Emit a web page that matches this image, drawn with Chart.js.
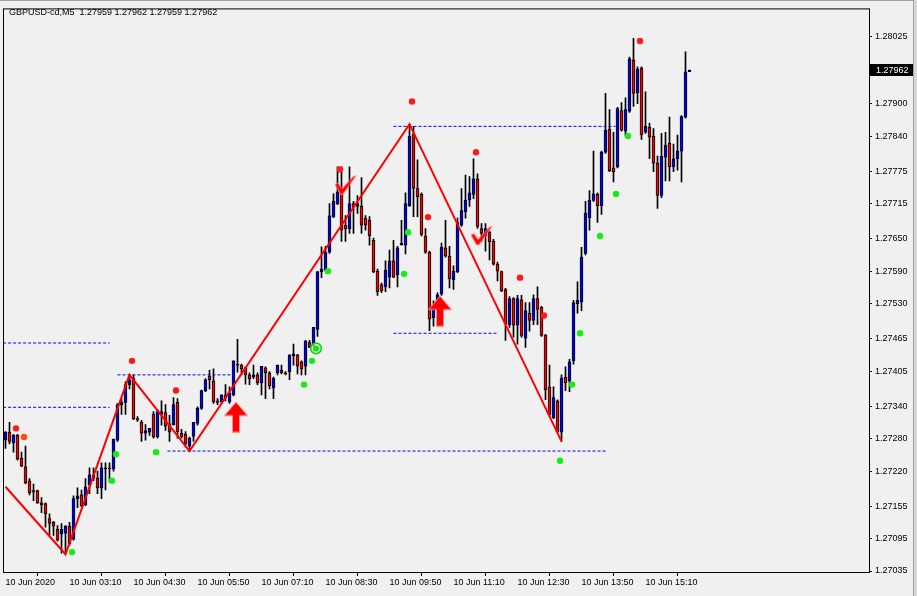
<!DOCTYPE html>
<html><head><meta charset="utf-8">
<script src="https://cdn.jsdelivr.net/npm/chart.js@4.4.1/dist/chart.umd.min.js"></script>
<style>html,body{margin:0;padding:0;background:#f0f0f0;overflow:hidden}canvas{display:block}</style>
</head><body>
<canvas id="c" width="917" height="596"></canvas>
<script>
// ---------- DATA ----------
const symbolTitle = "GBPUSD-cd,M5  1.27959 1.27962 1.27959 1.27962";
const bidPrice = 1.27962;
const xTickBars = [0,16,32,48,64,80,96,112,128,144,160];
const xTickLabels = ["10 Jun 2020","10 Jun 03:10","10 Jun 04:30","10 Jun 05:50","10 Jun 07:10","10 Jun 08:30","10 Jun 09:50","10 Jun 11:10","10 Jun 12:30","10 Jun 13:50","10 Jun 15:10"];
const yTickValues = [1.27035,1.27095,1.27155,1.27220,1.27280,1.27340,1.27405,1.27465,1.27530,1.27590,1.27650,1.27715,1.27775,1.27840,1.27900,1.28025];
const yMin = 1.270313, yMax = 1.280763;

const open = [1.27277,1.27292,1.27272,1.27286,1.27244,1.27228,1.27202,1.27184,1.27184,1.27161,1.27160,1.27132,1.27125,1.27112,1.27103,1.27105,1.27118,1.27094,1.27169,1.27176,1.27158,1.27194,1.27213,1.27207,1.27189,1.27224,1.27226,1.27224,1.27277,1.27343,1.27347,1.27380,1.27392,1.27317,1.27310,1.27290,1.27292,1.27325,1.27283,1.27325,1.27328,1.27308,1.27306,1.27347,1.27290,1.27288,1.27266,1.27284,1.27308,1.27336,1.27369,1.27396,1.27387,1.27350,1.27348,1.27361,1.27348,1.27361,1.27416,1.27416,1.27411,1.27398,1.27394,1.27398,1.27383,1.27411,1.27402,1.27374,1.27402,1.27407,1.27402,1.27404,1.27433,1.27435,1.27422,1.27414,1.27458,1.27455,1.27482,1.27589,1.27592,1.27625,1.27691,1.27715,1.27739,1.27675,1.27668,1.27715,1.27710,1.27710,1.27688,1.27684,1.27647,1.27590,1.27565,1.27561,1.27579,1.27609,1.27583,1.27639,1.27638,1.27711,1.27843,1.27743,1.27732,1.27655,1.27625,1.27504,1.27519,1.27548,1.27633,1.27618,1.27574,1.27589,1.27675,1.27700,1.27722,1.27732,1.27761,1.27669,1.27655,1.27662,1.27645,1.27603,1.27589,1.27556,1.27491,1.27539,1.27490,1.27537,1.27466,1.27512,1.27499,1.27539,1.27523,1.27471,1.27376,1.27319,1.27350,1.27292,1.27394,1.27387,1.27424,1.27530,1.27533,1.27623,1.27689,1.27721,1.27732,1.27711,1.27810,1.27853,1.27781,1.27783,1.27887,1.27849,1.27886,1.27981,1.27920,1.27966,1.27847,1.27856,1.27840,1.27790,1.27730,1.27801,1.27827,1.27783,1.27798,1.27812,1.27875,1.27959];
const high = [1.27293,1.27310,1.27288,1.27288,1.27255,1.27266,1.27206,1.27196,1.27185,1.27171,1.27161,1.27141,1.27127,1.27119,1.27123,1.27119,1.27125,1.27174,1.27189,1.27185,1.27206,1.27226,1.27226,1.27220,1.27235,1.27235,1.27235,1.27279,1.27345,1.27354,1.27385,1.27398,1.27398,1.27321,1.27314,1.27306,1.27299,1.27330,1.27334,1.27350,1.27343,1.27323,1.27356,1.27354,1.27297,1.27293,1.27283,1.27310,1.27339,1.27370,1.27391,1.27407,1.27409,1.27354,1.27361,1.27380,1.27376,1.27424,1.27464,1.27418,1.27413,1.27402,1.27416,1.27402,1.27414,1.27413,1.27404,1.27394,1.27416,1.27416,1.27404,1.27435,1.27455,1.27436,1.27424,1.27462,1.27462,1.27486,1.27589,1.27635,1.27636,1.27715,1.27733,1.27783,1.27783,1.27693,1.27783,1.27719,1.27730,1.27763,1.27693,1.27691,1.27651,1.27594,1.27568,1.27609,1.27629,1.27647,1.27636,1.27684,1.27735,1.27862,1.27858,1.27796,1.27735,1.27669,1.27627,1.27535,1.27550,1.27642,1.27684,1.27636,1.27600,1.27688,1.27743,1.27768,1.27765,1.27798,1.27770,1.27678,1.27678,1.27664,1.27649,1.27607,1.27590,1.27558,1.27543,1.27541,1.27545,1.27545,1.27532,1.27532,1.27546,1.27561,1.27525,1.27473,1.27416,1.27376,1.27352,1.27398,1.27413,1.27427,1.27536,1.27570,1.27634,1.27719,1.27739,1.27812,1.27735,1.27812,1.27919,1.27889,1.27847,1.27893,1.27902,1.27911,1.27986,1.28021,1.27968,1.27968,1.27922,1.27864,1.27854,1.27803,1.27845,1.27847,1.27875,1.27825,1.27842,1.27878,1.27996,1.27962];
const low = [1.27262,1.27270,1.27255,1.27240,1.27228,1.27196,1.27176,1.27165,1.27160,1.27143,1.27116,1.27101,1.27101,1.27090,1.27068,1.27066,1.27083,1.27092,1.27152,1.27154,1.27156,1.27178,1.27202,1.27178,1.27169,1.27185,1.27200,1.27220,1.27275,1.27325,1.27325,1.27372,1.27315,1.27312,1.27275,1.27277,1.27286,1.27281,1.27281,1.27305,1.27295,1.27275,1.27305,1.27281,1.27281,1.27264,1.27257,1.27275,1.27305,1.27334,1.27367,1.27372,1.27345,1.27343,1.27345,1.27350,1.27345,1.27359,1.27403,1.27398,1.27381,1.27380,1.27391,1.27380,1.27361,1.27354,1.27372,1.27354,1.27398,1.27400,1.27398,1.27389,1.27416,1.27400,1.27398,1.27398,1.27449,1.27451,1.27469,1.27578,1.27590,1.27623,1.27689,1.27713,1.27645,1.27645,1.27660,1.27660,1.27697,1.27660,1.27666,1.27638,1.27587,1.27545,1.27550,1.27552,1.27559,1.27578,1.27561,1.27638,1.27622,1.27710,1.27691,1.27691,1.27655,1.27623,1.27480,1.27488,1.27491,1.27545,1.27616,1.27559,1.27556,1.27587,1.27673,1.27688,1.27710,1.27724,1.27669,1.27645,1.27627,1.27611,1.27601,1.27572,1.27552,1.27462,1.27486,1.27468,1.27455,1.27468,1.27449,1.27479,1.27491,1.27491,1.27469,1.27352,1.27321,1.27317,1.27292,1.27275,1.27369,1.27367,1.27418,1.27512,1.27517,1.27620,1.27666,1.27719,1.27680,1.27695,1.27808,1.27774,1.27755,1.27781,1.27849,1.27840,1.27884,1.27895,1.27900,1.27834,1.27845,1.27798,1.27774,1.27706,1.27726,1.27757,1.27757,1.27774,1.27777,1.27755,1.27873,1.27959];
const close = [1.27292,1.27275,1.27286,1.27242,1.27229,1.27198,1.27180,1.27181,1.27161,1.27158,1.27141,1.27123,1.27118,1.27092,1.27112,1.27118,1.27085,1.27169,1.27174,1.27156,1.27191,1.27213,1.27207,1.27189,1.27226,1.27226,1.27224,1.27279,1.27343,1.27347,1.27380,1.27389,1.27317,1.27314,1.27290,1.27295,1.27299,1.27283,1.27330,1.27330,1.27303,1.27292,1.27343,1.27293,1.27283,1.27270,1.27281,1.27310,1.27336,1.27369,1.27389,1.27389,1.27348,1.27347,1.27361,1.27356,1.27365,1.27424,1.27418,1.27409,1.27398,1.27391,1.27398,1.27383,1.27414,1.27402,1.27378,1.27392,1.27416,1.27402,1.27400,1.27435,1.27437,1.27414,1.27409,1.27460,1.27449,1.27486,1.27589,1.27594,1.27625,1.27693,1.27719,1.27737,1.27666,1.27668,1.27715,1.27708,1.27715,1.27675,1.27675,1.27655,1.27589,1.27552,1.27554,1.27592,1.27609,1.27579,1.27633,1.27642,1.27715,1.27840,1.27743,1.27728,1.27658,1.27625,1.27501,1.27519,1.27546,1.27634,1.27618,1.27576,1.27590,1.27680,1.27702,1.27721,1.27735,1.27761,1.27673,1.27660,1.27669,1.27644,1.27603,1.27590,1.27554,1.27493,1.27539,1.27490,1.27539,1.27471,1.27517,1.27499,1.27539,1.27519,1.27471,1.27370,1.27325,1.27356,1.27293,1.27392,1.27383,1.27422,1.27532,1.27536,1.27616,1.27697,1.27721,1.27733,1.27711,1.27810,1.27851,1.27776,1.27774,1.27891,1.27851,1.27889,1.27983,1.27919,1.27964,1.27842,1.27858,1.27838,1.27790,1.27730,1.27803,1.27823,1.27783,1.27798,1.27812,1.27876,1.27959,1.27962];

const zigzagBar = [0,15,31,46,101,139];
const zigzagPrice = [1.27191,1.27066,1.27398,1.27257,1.27862,1.27275];

const levelFrom = [-0.6,-0.6,28,97,97,40.5];
const levelTo = [26,26,57,123,152.5,150.5];
const levelPrice = [1.27457,1.27338,1.27398,1.27475,1.27858,1.27257];

const upDotBar = [2,4,31,42,83,101,105,117,128,134,158];
const upDotPrice = [1.27299,1.27283,1.27424,1.27369,1.27778,1.27904,1.27690,1.27810,1.27578,1.27508,1.28016];
const downDotBar = [16,26,27,37,74,76,80,99,100,138,141,143,148,152,155];
const downDotPrice = [1.27070,1.27202,1.27251,1.27255,1.27380,1.27424,1.27590,1.27585,1.27662,1.27239,1.27380,1.27475,1.27655,1.27733,1.27840];
const circleBar = [77];
const circlePrice = [1.27447];
const arrowBar = [57,108];
const arrowPrice = [1.27320,1.27516];
const checkBar = [85,119];
const checkPrice = [1.27750,1.27656];

// ---------- STYLE ----------
const FONT = {family:'"Liberation Sans", Arial, sans-serif', size:9};
const BULL = '#0000ff', BEAR = '#ff0000';
const X_MIN = -0.625, X_MAX = 215.875;

function makeArrow(){
  const c = document.createElement('canvas'); c.width = 24; c.height = 31;
  const g = c.getContext('2d');
  g.beginPath();
  g.moveTo(12,0.5); g.lineTo(23.5,14); g.lineTo(15.5,14); g.lineTo(15.5,30.5);
  g.lineTo(8.5,30.5); g.lineTo(8.5,14); g.lineTo(0.5,14); g.closePath();
  g.fillStyle = '#ff0000'; g.fill();
  g.strokeStyle = '#ff8c8c'; g.lineWidth = 1; g.stroke();
  return c;
}
function makeCheck(){
  const c = document.createElement('canvas'); c.width = 22; c.height = 20;
  const g = c.getContext('2d');
  g.beginPath();
  g.moveTo(0.5,9.5); g.lineTo(3.5,8); g.lineTo(7.5,14); g.lineTo(19,1.5);
  g.lineTo(21.5,1); g.lineTo(8.5,19.5); g.lineTo(6,19.5); g.closePath();
  g.fillStyle = '#ff0000'; g.fill();
  g.strokeStyle = '#ff9a9a'; g.lineWidth = 0.8; g.stroke();
  return c;
}

const idx = open.map((_, i) => i);
const datasets = [];
datasets.push({type:'bar', label:'wick', order:20, grouped:false, barThickness:1,
  data: idx.map(i => ({x:i, y:[low[i], high[i]]})),
  backgroundColor:'#000000', borderWidth:0});
datasets.push({type:'bar', label:'body', order:19, grouped:false, barThickness:3,
  data: idx.map(i => ({x:i, y:[open[i], close[i]]})),
  backgroundColor: ctx => close[ctx.dataIndex] >= open[ctx.dataIndex] ? BULL : BEAR,
  borderColor:'#000000', borderWidth:1, borderSkipped:false});
levelPrice.forEach((p, k) => {
  datasets.push({type:'line', label:'level'+k, order:15,
    data:[{x:levelFrom[k], y:p},{x:levelTo[k], y:p}],
    borderColor:'#0000ff', borderWidth:1, borderDash:[3,2], pointRadius:0});
});
datasets.push({type:'line', label:'zigzag', order:12,
  data: zigzagBar.map((b,k)=>({x:b, y:zigzagPrice[k]})),
  borderColor:'#ff0000', borderWidth:2, pointRadius:0, tension:0});
datasets.push({type:'line', label:'up', order:6, xAxisID:'x2', showLine:false,
  data: upDotBar.map((b,k)=>({x:b, y:upDotPrice[k]})),
  pointRadius:3.2, pointBorderWidth:0,
  pointBackgroundColor: ctx => ctx.dataIndex === 1 ? '#ff4a1a' : '#ff1a1a'});
datasets.push({type:'line', label:'down', order:6, xAxisID:'x2', showLine:false,
  data: downDotBar.map((b,k)=>({x:b, y:downDotPrice[k]})),
  pointRadius:3.2, pointBorderWidth:0, pointBackgroundColor:'#14ee14'});
datasets.push({type:'line', label:'ring', order:5, xAxisID:'x2', showLine:false,
  data: circleBar.map((b,k)=>({x:b, y:circlePrice[k]})),
  pointRadius:5.3, pointBorderWidth:1.5, pointBorderColor:'#10d010', pointBackgroundColor:'rgba(170,240,170,0.6)'});
datasets.push({type:'line', label:'ringdot', order:4, xAxisID:'x2', showLine:false,
  data: circleBar.map((b,k)=>({x:b, y:circlePrice[k]})),
  pointRadius:3, pointBorderWidth:0, pointBackgroundColor:'#14e014'});
datasets.push({type:'line', label:'arrows', order:3, xAxisID:'x2', showLine:false,
  data: arrowBar.map((b,k)=>({x:b, y:arrowPrice[k]})),
  pointStyle: makeArrow(), pointRadius:10});
datasets.push({type:'line', label:'checks', order:3, showLine:false,
  data: checkBar.map((b,k)=>({x:b, y:checkPrice[k]})),
  pointStyle: makeCheck(), pointRadius:10});

const decor = {
  id:'decor',
  beforeDraw(chart){
    const g = chart.ctx;
    g.save(); g.fillStyle = '#f0f0f0'; g.fillRect(0,0,chart.width,chart.height);
    g.fillStyle = '#a0a0a0'; g.fillRect(0,0,chart.width,1);
    g.fillStyle = '#d8d8d8'; g.fillRect(914,0,3,chart.height);
    g.fillStyle = '#a0a0a0'; g.fillRect(913,0,1,chart.height);
    g.restore();
  },
  afterDraw(chart){
    const g = chart.ctx, a = chart.chartArea, ys = chart.scales.y;
    g.save();
    g.strokeStyle = '#000'; g.lineWidth = 1;
    g.strokeRect(a.left+0.5, a.top+0.5, a.right-a.left, a.bottom-a.top-1);
    g.font = '9px "Liberation Sans", Arial, sans-serif';
    g.fillStyle = '#000'; g.textBaseline = 'middle'; g.textAlign = 'left';
    g.fillText(symbolTitle, 9, 13);
    const by = Math.round(ys.getPixelForValue(bidPrice));
    g.fillStyle = '#000'; g.fillRect(a.right+1, by-6, 913-(a.right+1), 12);
    g.fillStyle = '#fff'; g.fillText(bidPrice.toFixed(5), 876, by+0.5);
    g.restore();
  }
};

new Chart(document.getElementById('c'), {
  type:'bar',
  data:{datasets},
  options:{
    responsive:false, animation:false, devicePixelRatio:1,
    layout:{autoPadding:false, padding:{left:3, top:3, right:0, bottom:0}},
    plugins:{legend:{display:false}, tooltip:{enabled:false}},
    scales:{
      x:{type:'linear', min:X_MIN, max:X_MAX, offset:false,
        grid:{display:true, drawOnChartArea:false, drawTicks:true, tickLength:3, color:'#000'},
        border:{display:false},
        ticks:{autoSkip:false, maxRotation:0, minRotation:0, align:'start', padding:1, color:'#000', font:FONT,
          callback:(v,i)=> xTickLabels[i]},
        afterBuildTicks:s=>{ s.ticks = xTickBars.map(v=>({value:v})); },
        afterFit:s=>{ s.height = 23; }},
      x2:{type:'linear', display:false, min:X_MIN-0.625, max:X_MAX-0.625, offset:false},
      y:{type:'linear', position:'right', min:yMin, max:yMax,
        grid:{display:true, drawOnChartArea:false, drawTicks:true, tickLength:3, color:'#000'},
        border:{display:false},
        ticks:{autoSkip:false, padding:3, color:'#000', font:FONT, callback:v=>v.toFixed(5)},
        afterBuildTicks:s=>{ s.ticks = yTickValues.map(v=>({value:v})); },
        afterFit:s=>{ s.width = 48; }}
    }
  },
  plugins:[decor]
});
</script>
</body></html>
